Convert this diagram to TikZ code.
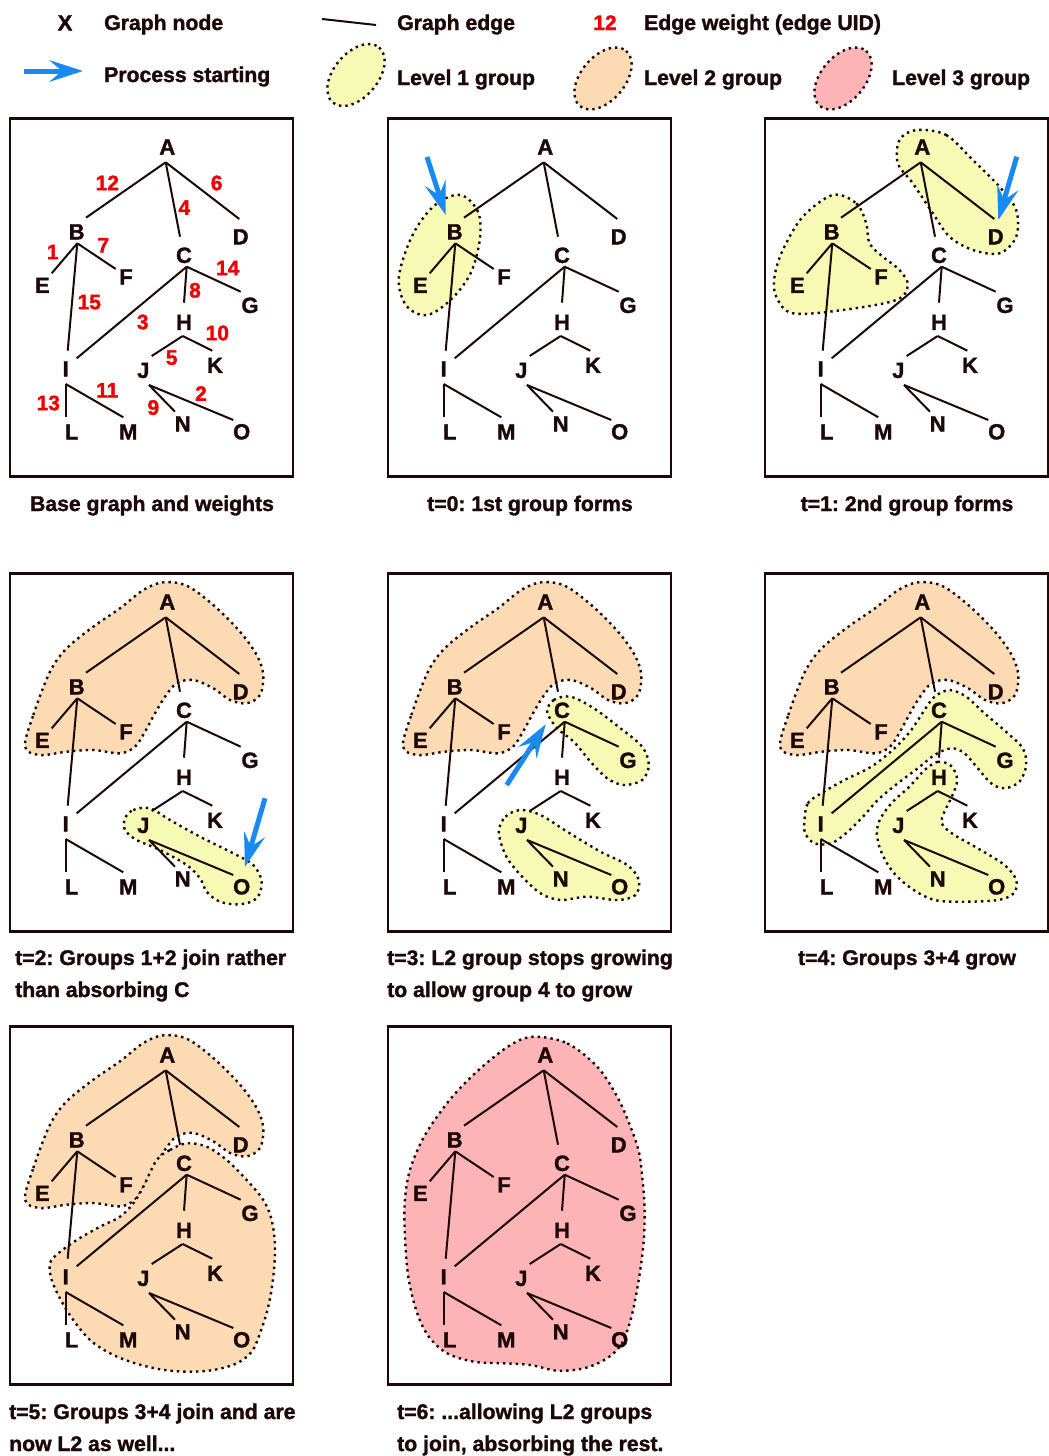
\documentclass[tikz,border=0pt]{standalone}
\usepackage{fontspec}
\setmainfont{Liberation Sans}[BoldFeatures={FakeBold=1.5}]
\usetikzlibrary{arrows.meta}
\frenchspacing

\definecolor{ink}{RGB}{28,8,8}
\definecolor{lvone}{RGB}{247,250,180}
\definecolor{lvtwo}{RGB}{252,218,180}
\definecolor{lvthree}{RGB}{252,180,182}
\definecolor{pointer}{RGB}{24,138,240}
\definecolor{weightred}{RGB}{240,0,0}

\tikzset{
  gnode/.style={inner sep=0pt, text=ink, font=\fontsize{22}{22}\selectfont\bfseries,
    text height=15.8pt, text depth=0pt},
  gedge/.style={draw=ink, line width=2pt},
  panelbox/.style={draw=ink, line width=2.5pt},
  blob/.style={draw=ink, line width=2.4pt, dash pattern=on 2.4pt off 4pt},
  grpone/.style={blob, fill=lvone},
  grptwo/.style={blob, fill=lvtwo},
  grpthree/.style={blob, fill=lvthree},
  wt/.style={text=weightred, inner sep=0pt, font=\fontsize{21}{21}\selectfont\bfseries,
    text height=15pt, text depth=0pt},
  captext/.style={anchor=base west, inner sep=0pt, text=ink,
    font=\fontsize{21.2}{24}\selectfont\bfseries},
  pointerarrow/.style={draw=pointer, line width=5pt,
    -{Stealth[length=34pt,width=22pt,inset=13pt,line width=0pt]}},
}

% one connector between two named nodes, each end offset from the node centre
\newcommand\gedge[4]{\draw[gedge] ([shift={#2}]#1.center) -- ([shift={#4}]#3.center);}

% the fifteen-node tree, node names prefixed by #1
\newcommand\graphtree[1]{%
  \node[gnode] (#1A) at (157.3,28.2) {A};
  \node[gnode] (#1B) at (66.7,113) {B};
  \node[gnode] (#1C) at (174,136.5) {C};
  \node[gnode] (#1D) at (230.7,118) {D};
  \node[gnode] (#1E) at (32.3,166.5) {E};
  \node[gnode] (#1F) at (116,158) {F};
  \node[gnode] (#1G) at (240,186.5) {G};
  \node[gnode] (#1H) at (174,203.5) {H};
  \node[gnode] (#1I) at (55.7,250) {I};
  \node[gnode] (#1J) at (133.3,251.5) {J};
  \node[gnode] (#1K) at (205,246.5) {K};
  \node[gnode] (#1L) at (61.7,313) {L};
  \node[gnode] (#1M) at (118.3,313) {M};
  \node[gnode] (#1N) at (172.7,305) {N};
  \node[gnode] (#1O) at (231.7,313) {O};
  \gedge{#1A}{(-1.6,15.6)}{#1B}{(9.3,-13.8)}
  \gedge{#1A}{(-1.6,15.6)}{#1C}{(-4,-18.3)}
  \gedge{#1A}{(-1.6,15.6)}{#1D}{(-1.4,-17.5)}
  \gedge{#1B}{(0.6,11.8)}{#1E}{(9.4,-11.7)}
  \gedge{#1B}{(0.6,11.8)}{#1F}{(-10.3,-7.5)}
  \gedge{#1B}{(0.6,11.8)}{#1I}{(2,-17.8)}
  \gedge{#1C}{(2.7,11.7)}{#1G}{(-9.3,-13.3)}
  \gedge{#1C}{(2.7,11.7)}{#1H}{(0,-19.3)}
  \gedge{#1C}{(2.7,11.7)}{#1I}{(11,-10.2)}
  \gedge{#1H}{(-1.3,14)}{#1J}{(8.4,-14)}
  \gedge{#1H}{(-1.3,14)}{#1K}{(-2.7,-14.3)}
  \gedge{#1I}{(0,15.5)}{#1L}{(-6,-14.8)}
  \gedge{#1I}{(0,15.5)}{#1M}{(-5,-14.2)}
  \gedge{#1J}{(5.7,15)}{#1N}{(-7.7,-11.8)}
  \gedge{#1J}{(5.7,15)}{#1O}{(-8.4,-11.5)}
}

\newcommand\panelframe{\draw[panelbox] (0,0) rectangle (283,358);}

% group outlines, in panel coordinates
\newcommand\blobABDEF{plot[smooth cycle, tension=0.55] coordinates {
  (15,173.2) (23.3,141.5) (40,98.2) (56.7,74.8) (83.3,53.2) (110,34.8) (133.3,16.5)
  (153.3,8.8) (176.7,12.2) (203.3,31.5) (230,58.2) (246.7,81.5) (253.3,101.5)
  (250,121.5) (236.7,129.8) (220,126.5) (203.3,114.8) (183.3,106.5) (166.7,109.8)
  (155,123.2) (145,139.8) (135,158.2) (125,173.2) (110,179.8) (83.3,176.5)
  (56.7,178.2) (30,181.5)}}

\begin{document}
\begin{tikzpicture}[x=1pt,y=-1pt]
\useasboundingbox (0,0) rectangle (1049,1456);

% ---------- legend ----------
\node[gnode] (lgX) at (65,22.5) {X};
\node[captext] (lgnode) at (104,30) {Graph node};
\coordinate (lgE1) at (322,19);
\coordinate (lgE2) at (376,25);
\draw[gedge] (lgE1) -- (lgE2);
\node[captext] (lgedge) at (397,30) {Graph edge};
\node[wt] (lgW) at (605,22.5) {12};
\node[captext] (lgweight) at (644,30) {Edge weight (edge UID)};
\coordinate (lgA1) at (24,71);
\coordinate (lgA2) at (83,71);
\draw[pointerarrow] (lgA1) -- (lgA2);
\node[captext] (lgproc) at (104,82) {Process starting};
\path[grpone] (356,75) ellipse [x radius=36, y radius=22, rotate=50];
\node[captext] (lgone) at (397,85) {Level 1 group};
\path[grptwo] (603,78.5) ellipse [x radius=36, y radius=22, rotate=50];
\node[captext] (lgtwo) at (644,85) {Level 2 group};
\path[grpthree] (843,78.5) ellipse [x radius=36, y radius=22, rotate=50];
\node[captext] (lgthree) at (892,85) {Level 3 group};

% ---------- base graph with weights ----------
\begin{scope}[shift={(10,118.5)}]
  \panelframe
  \graphtree{pa}
  \node[wt] (w12) at (97.3,64.2) {12};
  \node[wt] (w6) at (206.7,64.2) {6};
  \node[wt] (w4) at (174.3,88.8) {4};
  \node[wt] (w1) at (42.7,133.2) {1};
  \node[wt] (w7) at (93.3,126.5) {7};
  \node[wt] (w14) at (217.7,149.2) {14};
  \node[wt] (w15) at (79.3,183.2) {15};
  \node[wt] (w8) at (185,171.5) {8};
  \node[wt] (w3) at (132.7,203.2) {3};
  \node[wt] (w10) at (207.3,214.2) {10};
  \node[wt] (w5) at (161.7,238.8) {5};
  \node[wt] (w13) at (38.3,284.2) {13};
  \node[wt] (w11) at (97.3,271.5) {11};
  \node[wt] (w9) at (143.3,288.8) {9};
  \node[wt] (w2) at (191,274.8) {2};
\end{scope}
\node[captext, anchor=base] (cap1) at (152,511) {Base graph and weights};

% ---------- t=0 ----------
\begin{scope}[shift={(388,118.5)}]
  \panelframe
  \path[grpone] plot[smooth cycle, tension=0.6] coordinates {
    (72.5,76.5) (89.2,91.5) (92.5,111.5) (89.2,134.8) (80.8,158.2) (62.5,181.5)
    (39.2,196.5) (19.2,188.2) (10.8,164.8) (15.8,138.2) (29.2,108.2) (49.2,84.8)};
  \graphtree{pb}
  \coordinate (pbT) at (39,38.5);
  \coordinate (pbH) at (57.7,96.5);
  \draw[pointerarrow] (pbT) -- (pbH);
\end{scope}
\node[captext, anchor=base] (cap2) at (530,511) {t=0: 1st group forms};

% ---------- t=1 ----------
\begin{scope}[shift={(765,118.5)}]
  \panelframe
  \path[grpone] plot[smooth cycle, tension=0.55] coordinates {
    (67.8,76.5) (91.2,84.8) (101.2,104.8) (104.5,124.8) (117.8,138.2) (134.5,151.5)
    (142.8,166.5) (131.2,181.5) (77.8,191.5) (27.8,194.8) (11.2,178.2) (9.5,158.2)
    (17.8,131.5) (37.8,98.2)};
  \path[grpone] plot[smooth cycle, tension=0.55] coordinates {
    (151.2,11.5) (181.2,16.5) (207.8,41.5) (234.5,68.2) (251.2,91.5) (251.2,118.2)
    (234.5,134.8) (207.8,131.5) (184.5,118.2) (167.8,94.8) (147.8,64.8) (132.8,44.8)
    (134.5,21.5)};
  \graphtree{pc}
  \coordinate (pcT) at (251.7,38.2);
  \coordinate (pcH) at (233.3,101.5);
  \draw[pointerarrow] (pcT) -- (pcH);
\end{scope}
\node[captext, anchor=base] (cap3) at (907,511) {t=1: 2nd group forms};

% ---------- t=2 ----------
\begin{scope}[shift={(10,573.5)}]
  \panelframe
  \path[grptwo] \blobABDEF;
  \path[grpone] plot[smooth cycle, tension=0.55] coordinates {
    (115,244.8) (123.3,236.5) (140,234.8) (160,246.5) (190,263.2) (223.3,279.8)
    (243.3,291.5) (251.7,308.2) (246.7,324.8) (230,330.8) (210,328.2) (196.7,318.2)
    (190,304.8) (176.7,291.5) (150,276.5) (126.7,266.5) (115,256.5)};
  \graphtree{pd}
  \coordinate (pdT) at (255,224.8);
  \coordinate (pdH) at (235,293.2);
  \draw[pointerarrow] (pdT) -- (pdH);
\end{scope}
\node[captext] (cap4a) at (15,965) {t=2: Groups 1+2 join rather};
\node[captext] (cap4b) at (15,997) {than absorbing C};

% ---------- t=3 ----------
\begin{scope}[shift={(388,573.5)}]
  \panelframe
  \path[grptwo] \blobABDEF;
  \path[grpone] plot[smooth cycle, tension=0.55] coordinates {
    (159.2,138.2) (165.8,126.5) (182.5,123.2) (205.8,134.8) (232.5,154.8) (254.2,173.2)
    (260.8,191.5) (254.2,206.5) (235.8,211.5) (219.2,204.8) (202.5,188.2) (185.8,168.2)
    (169.2,154.8)};
  \path[grpone] plot[smooth cycle, tension=0.55] coordinates {
    (110.8,258.2) (117.5,243.2) (132.5,236.5) (152.5,241.5) (179.2,258.2) (212.5,278.2)
    (239.2,291.5) (250.8,306.5) (247.5,321.5) (229.2,326.5) (199.2,323.2) (172.5,326.5)
    (152.5,319.8) (132.5,301.5) (117.5,281.5)};
  \graphtree{pe}
  \coordinate (peT) at (118.7,211.5);
  \coordinate (peH) at (157.7,150.8);
  \draw[pointerarrow] (peT) -- (peH);
\end{scope}
\node[captext] (cap5a) at (387,965) {t=3: L2 group stops growing};
\node[captext] (cap5b) at (387,997) {to allow group 4 to grow};

% ---------- t=4 ----------
\begin{scope}[shift={(765,573.5)}]
  \panelframe
  \path[grptwo] \blobABDEF;
  \path[grpone] plot[smooth cycle, tension=0.55] coordinates {
    (39.5,246.5) (42.8,229.8) (56.2,219.8) (79.5,206.5) (106.2,193.2) (129.5,174.8)
    (146.2,156.5) (159.5,136.5) (169.5,123.2) (184.5,116.5) (201.2,123.2) (219.5,139.8)
    (242.8,159.8) (257.8,174.8) (261.2,191.5) (254.5,208.2) (239.5,214.8) (226.2,209.8)
    (212.8,194.8) (199.5,179.8) (186.2,174.8) (169.5,181.5) (152.8,194.8) (132.8,209.8)
    (112.8,226.5) (99.5,241.5) (82.8,258.2) (66.2,269.8) (49.5,269.8) (40.2,259.8)};
  \path[grpone] plot[smooth cycle, tension=0.55] coordinates {
    (159.5,196.5) (172.8,188.2) (186.2,192.5) (192.2,206.5) (186.8,223.2) (179.5,238.2)
    (176.8,249.8) (187.8,260.5) (212.8,274.8) (239.5,291.5) (251.2,306.5) (248.8,319.8)
    (232.8,326.5) (199.5,328.2) (169.5,326.5) (146.2,314.8) (127.8,298.2) (116.2,278.2)
    (111.8,259.8) (115.5,244.8) (127.8,228.2) (142.8,214.8) (153.5,203.2)};
  \graphtree{pf}
\end{scope}
\node[captext, anchor=base] (cap6) at (907,965) {t=4: Groups 3+4 grow};

% ---------- t=5 ----------
\begin{scope}[shift={(10,1026.5)}]
  \panelframe
  \path[grptwo] \blobABDEF;
  \path[grptwo] plot[smooth cycle, tension=0.55] coordinates {
    (146.7,133.5) (160,123.5) (176.7,116.8) (196.7,120.2) (216.7,133.5) (236.7,153.5)
    (253.3,173.5) (261.7,193.5) (265,220.2) (263.3,250.2) (258.3,280.2) (250,306.8)
    (241.7,325.2) (226.7,336.8) (203.3,343.5) (176.7,345.2) (150,342.8) (123.3,336.2)
    (100,326.8) (80,313.5) (63.3,293.5) (51.7,275.2) (41.7,253.5) (40,236.8) (48.3,226.8)
    (66.7,213.5) (90,200.2) (110,190.2) (123.3,176.8) (133.3,160.2)};
  \graphtree{pg}
\end{scope}
\node[captext] (cap7a) at (9,1419) {t=5: Groups 3+4 join and are};
\node[captext] (cap7b) at (9,1451) {now L2 as well...};

% ---------- t=6 ----------
\begin{scope}[shift={(388,1026.5)}]
  \panelframe
  \path[grpthree] plot[smooth cycle, tension=0.55] coordinates {
    (145.8,10.2) (179.2,16.8) (209.2,40.2) (229.2,70.2) (242.5,100.2) (250.8,125)
    (254.2,150) (256.5,180.2) (255.8,213.5) (251.8,246.8) (245.8,280.2) (240,302)
    (232,320) (217,333) (195.8,341.8) (169.2,344.2) (142.5,338.5) (115.8,336.8)
    (85.8,335.2) (59.2,326.8) (40.8,310.2) (29.2,286.8) (20.8,253.5) (17.5,220.2)
    (16.5,180.2) (21,146.8) (32,118) (45,96) (65.8,68.5) (92.5,41.8) (122.5,18.5)};
  \graphtree{ph}
\end{scope}
\node[captext] (cap8a) at (397,1419) {t=6: ...allowing L2 groups};
\node[captext] (cap8b) at (397,1451) {to join, absorbing the rest.};

\end{tikzpicture}
\end{document}
